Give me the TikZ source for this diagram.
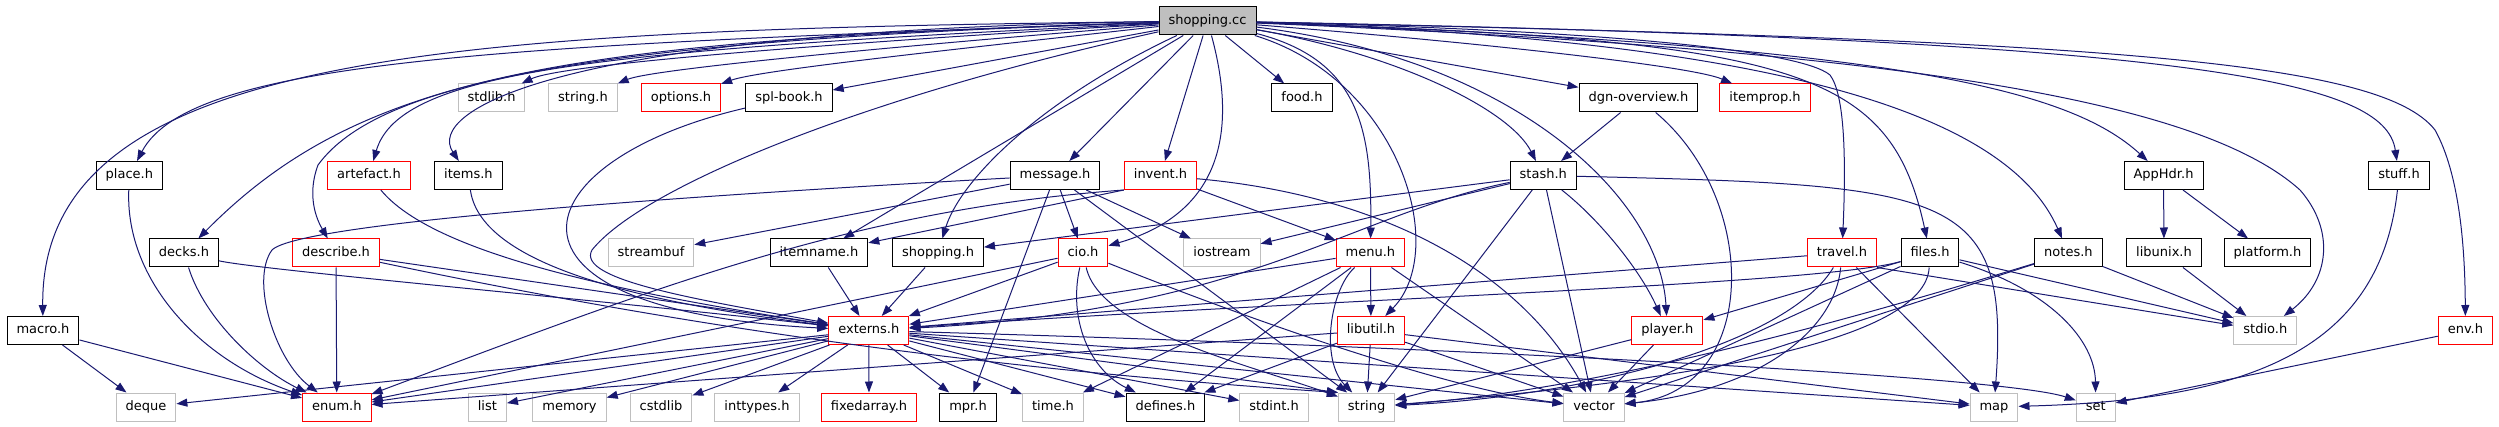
\documentclass[tikz,border=0pt]{standalone}
\usepackage{fontspec}
\setmainfont{DejaVu Sans}
\usetikzlibrary{arrows.meta}
\definecolor{incblue}{HTML}{191970}
\definecolor{sysgray}{HTML}{BFBFBF}
\begin{document}
\begin{tikzpicture}[x=1pt,y=-1pt,
  every node/.style={font=\fontsize{13}{15}\selectfont,inner xsep=9.5pt,inner ysep=0pt,
    minimum height=28pt,text height=10pt,text depth=3pt,line width=1pt,fill=white},
  hdr/.style={draw=black},
  cut/.style={draw=red},
  sys/.style={draw=sysgray},
  dep/.style={draw=incblue,line width=1pt,-{Triangle[length=11pt,width=8pt]}}]
\useasboundingbox (0,0) rectangle (2499,427);
\node[hdr,fill=sysgray] (sc) at (1207.5,21) {shopping.cc};
\node[sys] (stdlib) at (491.5,98) {stdlib.h};
\node[sys] (stringh) at (583,98) {string.h};
\node[cut] (options) at (681,98) {options.h};
\node[hdr] (splbook) at (789,98) {spl-book.h};
\node[hdr] (food) at (1302,98) {food.h};
\node[hdr] (dgn) at (1638.4,98) {dgn-overview.h};
\node[cut] (itemprop) at (1765,98) {itemprop.h};
\node[hdr] (place) at (129.4,175.5) {place.h};
\node[cut] (artefact) at (369,175.5) {artefact.h};
\node[hdr] (items) at (468.4,175.5) {items.h};
\node[hdr] (message) at (1055,175.5) {message.h};
\node[cut] (invent) at (1160.5,175.5) {invent.h};
\node[hdr] (stash) at (1543.3,175.5) {stash.h};
\node[hdr] (apphdr) at (2163.5,175.5) {AppHdr.h};
\node[hdr] (stuff) at (2399,175.5) {stuff.h};
\node[hdr] (decks) at (184,253) {decks.h};
\node[cut] (describe) at (336,253) {describe.h};
\node[sys] (streambuf) at (651,253) {streambuf};
\node[hdr] (itemname) at (819,253) {itemname.h};
\node[hdr] (shoppingh) at (938,253) {shopping.h};
\node[cut] (cio) at (1083,253) {cio.h};
\node[sys] (iostream) at (1222,253) {iostream};
\node[cut] (menu) at (1370.4,253) {menu.h};
\node[cut] (travel) at (1842,253) {travel.h};
\node[hdr] (files) at (1930,253) {files.h};
\node[hdr] (notes) at (2068.4,253) {notes.h};
\node[hdr] (libunix) at (2164,253) {libunix.h};
\node[hdr] (platform) at (2267.5,253) {platform.h};
\node[hdr] (macro) at (43,330.5) {macro.h};
\node[cut] (externs) at (868.8,330.5) {externs.h};
\node[cut] (libutil) at (1371,330.5) {libutil.h};
\node[cut] (player) at (1667.4,330.5) {player.h};
\node[sys] (stdio) at (2265.3,330.5) {stdio.h};
\node[cut] (env) at (2465.4,330.5) {env.h};
\node[sys] (deque) at (146,407) {deque};
\node[cut] (enum) at (336.8,407) {enum.h};
\node[sys] (list) at (487.4,407) {list};
\node[sys] (memory) at (569.5,407) {memory};
\node[sys] (cstdlib) at (661,407) {cstdlib};
\node[sys] (inttypes) at (757,407) {inttypes.h};
\node[cut] (fixedarray) at (869,407) {fixedarray.h};
\node[hdr] (mpr) at (968,407) {mpr.h};
\node[sys] (timeh) at (1053,407) {time.h};
\node[hdr] (defines) at (1165.4,407) {defines.h};
\node[sys] (stdint) at (1274,407) {stdint.h};
\node[sys] (strg) at (1366.6,407) {string};
\node[sys] (vector) at (1594,407) {vector};
\node[sys] (map) at (1994,407) {map};
\node[sys] (set) at (2095.7,407) {set};
\foreach \t in {splbook,message,itemname,invent,food,dgn}
  \draw[dep] (sc) -- (\t);
\draw[dep] (sc) .. controls (450,30) and (40,50) .. (macro);
\draw[dep] (sc) .. controls (500,45) and (190,60) .. (place);
\draw[dep] (sc) .. controls (560,40) and (360,75) .. (decks);
\draw[dep] (sc) .. controls (600,40) and (380,80) .. (318,165) .. controls (305,200) and (320,225) .. (describe);
\draw[dep] (sc) .. controls (600,50) and (400,70) .. (artefact);
\draw[dep] (sc) .. controls (560,30) and (425,110) .. (items);
\draw[dep] (sc) .. controls (800,45) and (560,65) .. (stdlib);
\draw[dep] (sc) .. controls (850,50) and (650,70) .. (stringh);
\draw[dep] (sc) .. controls (950,50) and (760,70) .. (options);
\draw[dep] (sc) .. controls (850,100) and (640,190) .. (592,250) .. controls (575,280) and (700,300) .. (externs);
\draw[dep] (sc) .. controls (1040,100) and (960,180) .. (shoppingh);
\draw[dep] (sc) .. controls (1240,140) and (1215,215) .. (cio);
\draw[dep] (sc) .. controls (1360,60) and (1372,130) .. (menu);
\draw[dep] (sc) .. controls (1400,80) and (1450,250) .. (libutil);
\draw[dep] (sc) .. controls (1400,55) and (1510,110) .. (stash);
\draw[dep] (sc) .. controls (1520,60) and (1660,200) .. (player);
\draw[dep] (sc) .. controls (1450,40) and (1690,65) .. (itemprop);
\draw[dep] (sc) .. controls (1600,30) and (1800,50) .. (1830,75) .. controls (1845,95) and (1846,160) .. (travel);
\draw[dep] (sc) .. controls (1800,40) and (1890,70) .. (files);
\draw[dep] (sc) .. controls (1800,40) and (2010,120) .. (notes);
\draw[dep] (sc) .. controls (1900,45) and (2070,90) .. (apphdr);
\draw[dep] (sc) .. controls (1900,50) and (2200,100) .. (2300,190) .. controls (2335,230) and (2330,280) .. (stdio);
\draw[dep] (sc) .. controls (2200,40) and (2385,80) .. (stuff);
\draw[dep] (sc) .. controls (2100,40) and (2380,60) .. (2435,130) .. controls (2460,175) and (2465,250) .. (env);
\draw[dep] (place) .. controls (125,280) and (200,360) .. (enum);
\draw[dep] (macro) -- (deque);
\draw[dep] (macro) -- (enum);
\draw[dep] (decks) .. controls (205,320) and (260,370) .. (enum);
\draw[dep] (decks) .. controls (260,270) and (600,300) .. (externs);
\draw[dep] (describe) -- (enum);
\draw[dep] (describe) -- (externs);
\draw[dep] (describe) .. controls (700,330) and (1000,370) .. (strg.north west);
\draw[dep] (artefact) .. controls (430,250) and (600,290) .. (externs);
\draw[dep] (items) .. controls (480,260) and (620,300) .. (externs);
\draw[dep] (splbook) .. controls (520,160) and (470,310) .. (externs);
\draw[dep] (itemname) -- (externs);
\draw[dep] (shoppingh) -- (externs);
\draw[dep] (message) .. controls (700,195) and (300,222) .. (272,250) .. controls (250,280) and (275,360) .. (enum);
\foreach \t in {streambuf,mpr,cio,iostream,strg}
  \draw[dep] (message) -- (\t);
\draw[dep] (invent.south west) -- (itemname);
\draw[dep] (invent.south west) .. controls (850,210) and (650,290) .. (enum);
\draw[dep] (invent) -- (menu);
\draw[dep] (invent) .. controls (1380,195) and (1520,270) .. (vector);
\draw[dep] (cio) -- (externs);
\draw[dep] (cio) -- (enum);
\draw[dep] (cio) .. controls (1068,320) and (1090,370) .. (defines);
\draw[dep] (cio) .. controls (1100,330) and (1250,365) .. (strg);
\draw[dep] (cio) .. controls (1250,320) and (1450,390) .. (vector);
\foreach \t in {externs,timeh,defines,libutil,vector}
  \draw[dep] (menu) -- (\t);
\draw[dep] (menu) .. controls (1330,290) and (1320,360) .. (strg);
\foreach \t in {enum,defines,strg,vector,map}
  \draw[dep] (libutil) -- (\t);
\foreach \t in {shoppingh,iostream,strg,vector}
  \draw[dep] (stash) -- (\t);
\draw[dep] (stash) .. controls (1350,215) and (1250,310) .. (externs);
\draw[dep] (stash) .. controls (1600,220) and (1640,270) .. (player);
\draw[dep] (stash) .. controls (1950,185) and (2010,190) .. (map);
\draw[dep] (dgn) -- (stash);
\draw[dep] (dgn) .. controls (1760,200) and (1760,390) .. (vector);
\draw[dep] (player) -- (strg);
\draw[dep] (player) -- (vector);
\draw[dep] (travel) -- (externs);
\draw[dep] (travel) .. controls (1790,340) and (1600,395) .. (strg);
\draw[dep] (travel) .. controls (1835,330) and (1760,390) .. (vector);
\draw[dep] (travel) -- (map);
\draw[dep] (travel.south east) -- (stdio);
\draw[dep] (files) .. controls (1820,285) and (1300,300) .. (externs);
\draw[dep] (files) -- (player);
\draw[dep] (files) .. controls (1925,340) and (1700,380) .. (strg);
\draw[dep] (files) -- (vector);
\draw[dep] (files) -- (stdio);
\draw[dep] (files) .. controls (2050,290) and (2095,340) .. (set);
\draw[dep] (notes) .. controls (1850,320) and (1600,390) .. (strg);
\draw[dep] (notes) -- (vector);
\draw[dep] (notes) -- (stdio);
\draw[dep] (apphdr) -- (libunix);
\draw[dep] (apphdr) -- (platform);
\draw[dep] (libunix) -- (stdio);
\draw[dep] (stuff) .. controls (2380,350) and (2250,400) .. (map);
\draw[dep] (env) -- (set);
\foreach \t in {enum,deque,list,memory,cstdlib,inttypes,fixedarray,mpr,timeh,defines,stdint,vector,map}
  \draw[dep] (externs) -- (\t);
\draw[dep] (externs) -- (strg.north west);
\draw[dep] (externs) .. controls (1400,345) and (2000,375) .. (set);
\end{tikzpicture}
\end{document}
